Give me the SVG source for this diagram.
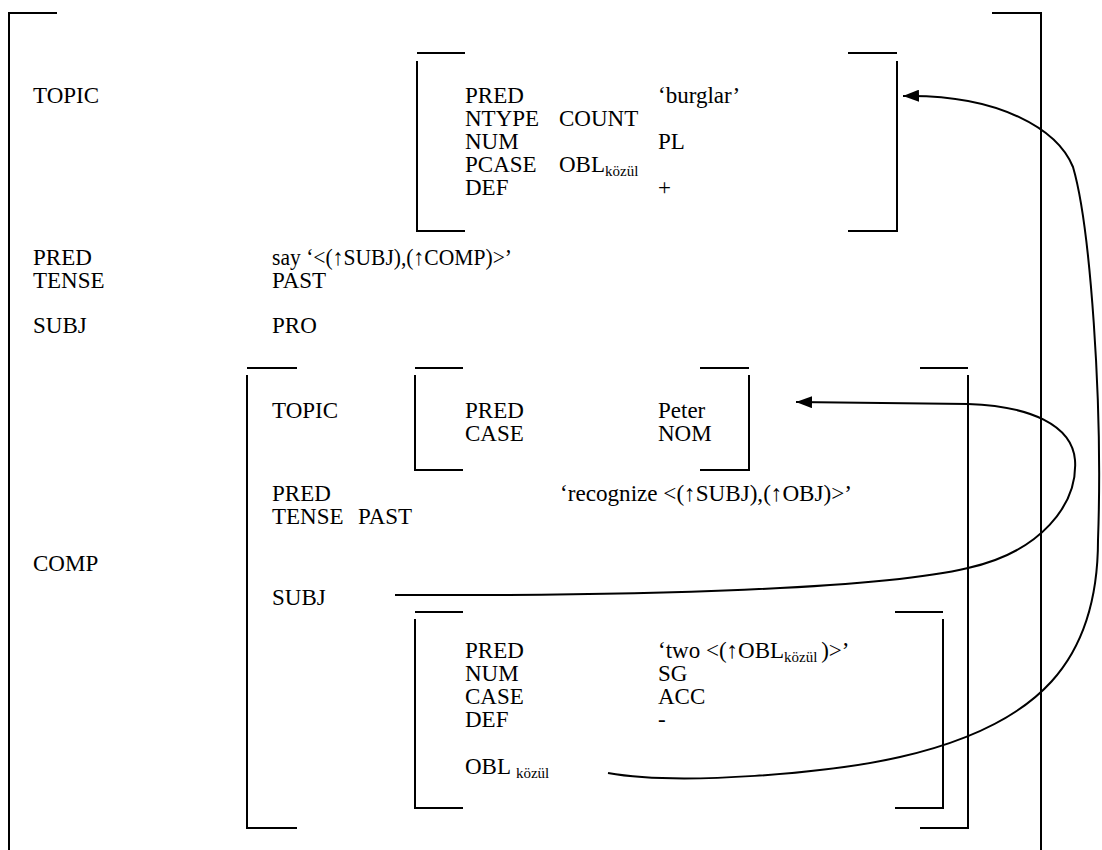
<svg xmlns="http://www.w3.org/2000/svg" width="1102" height="850" viewBox="0 0 1102 850">
<defs>
<style>
text{font-family:"Liberation Serif","DejaVu Serif","Noto Serif",serif;font-size:23px;fill:#000}
.sub{font-size:15px}
.br{fill:none;stroke:#000;stroke-width:2}
.cv{fill:none;stroke:#000;stroke-width:2}
</style>
<marker id="ah" viewBox="0 0 16 12" refX="16" refY="6" markerWidth="16" markerHeight="12" markerUnits="userSpaceOnUse" orient="auto">
<path d="M0,0 L16,6 L0,12 z" fill="#000"/>
</marker>
</defs>
<rect width="1102" height="850" fill="#fff"/>
<g font-family="Liberation Serif, DejaVu Serif, serif">
<g id="outer">
<path class="br" d="M57,13 H9 V850"/>
<path class="br" d="M992,13 H1041 V850"/>
<text x="33" y="103">TOPIC</text>
<text x="33" y="265">PRED</text>
<text x="33" y="288">TENSE</text>
<text x="33" y="333">SUBJ</text>
<text x="33" y="571">COMP</text>
<text x="272" y="265" textLength="240" lengthAdjust="spacingAndGlyphs">say ‘&lt;(↑SUBJ),(↑COMP)&gt;’</text>
<text x="272" y="288">PAST</text>
<text x="272" y="333">PRO</text>
</g>

<g id="topic-burglar">
<path class="br" d="M417,53 H465 M417,61 V231 H465"/>
<path class="br" d="M848,53 H897 M897,61 V231 H848"/>
<text x="465" y="103">PRED</text>
<text x="658" y="103">‘burglar’</text>
<text x="465" y="126">NTYPE</text>
<text x="559" y="126">COUNT</text>
<text x="465" y="149">NUM</text>
<text x="658" y="149">PL</text>
<text x="465" y="172">PCASE</text>
<text x="559" y="172">OBL<tspan class="sub" dy="4">közül</tspan></text>
<text x="465" y="195">DEF</text>
<text x="658" y="195">+</text>
</g>

<g id="comp">
<path class="br" d="M247,368 H297 M247,375 V828 H297"/>
<path class="br" d="M920,368 H968 M968,375 V828 H920"/>
<text x="272" y="418">TOPIC</text>
<text x="272" y="501">PRED</text>
<text x="560" y="501" textLength="292" lengthAdjust="spacingAndGlyphs">‘recognize &lt;(↑SUBJ),(↑OBJ)&gt;’</text>
<text x="272" y="524">TENSE</text>
<text x="358" y="524">PAST</text>
<text x="272" y="605">SUBJ</text>
</g>

<g id="topic-peter">
<path class="br" d="M415,368 H463 M415,375 V470 H463"/>
<path class="br" d="M700,368 H749 M749,375 V470 H700"/>
<text x="465" y="418">PRED</text>
<text x="658" y="418">Peter</text>
<text x="465" y="441">CASE</text>
<text x="658" y="441">NOM</text>
</g>

<g id="obj">
<path class="br" d="M415,612 H463 M415,619 V808 H463"/>
<path class="br" d="M895,612 H943 M943,619 V808 H895"/>
<text x="465" y="658">PRED</text>
<text x="658" y="658">‘two &lt;(↑OBL<tspan class="sub" dy="4">közül </tspan><tspan dy="-4">)&gt;’</tspan></text>
<text x="465" y="681">NUM</text>
<text x="658" y="681">SG</text>
<text x="465" y="704">CASE</text>
<text x="658" y="704">ACC</text>
<text x="465" y="727">DEF</text>
<text x="658" y="727">-</text>
<text x="465" y="774">OBL <tspan class="sub" dy="4">közül</tspan></text>
</g>

<g id="connectors">
<path class="cv" marker-end="url(#ah)" d="M395,595 C650,596 880,589 968,568 C1040,552 1078,505 1075,460 C1072,425 1030,406 968,404 L796,402"/>
<path class="cv" marker-end="url(#ah)" d="M608,773 C680,786 830,773 900,757 C1040,725 1098,660 1098,540 C1103,400 1090,225 1073,167 C1058,130 1000,94 903,96"/>
</g>
</g>
</svg>
